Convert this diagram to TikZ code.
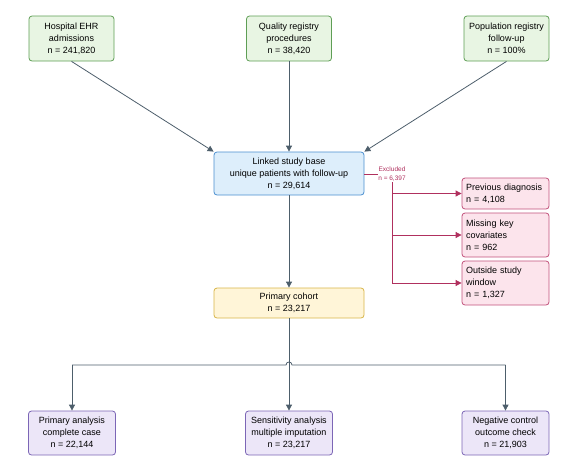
\documentclass[tikz,border=0pt]{standalone}
\usepackage{fontspec}
\setmainfont{Liberation Sans}
\usetikzlibrary{arrows.meta,positioning}
\definecolor{grnfill}{HTML}{E8F5E3}
\definecolor{grnline}{HTML}{5E9E55}
\definecolor{bluefill}{HTML}{DDEEFB}
\definecolor{blueline}{HTML}{4A8FD0}
\definecolor{pinkfill}{HTML}{FCE4EC}
\definecolor{pinkline}{HTML}{C2527C}
\definecolor{exclcol}{HTML}{B0305E}
\definecolor{yelfill}{HTML}{FFF5D8}
\definecolor{yelline}{HTML}{D8B548}
\definecolor{purfill}{HTML}{ECE6F8}
\definecolor{purline}{HTML}{7C66B6}
\definecolor{arrcol}{HTML}{4D5E6B}
\tikzset{
  box/.style={draw, rounded corners=3pt, line width=0.8pt, align=center,
    font=\fontsize{9}{12}\selectfont, inner sep=2pt},
  greenbox/.style={box, fill=grnfill, draw=grnline, minimum width=85pt, minimum height=45pt},
  bluebox/.style={box, fill=bluefill, draw=blueline, minimum width=150pt, minimum height=43pt},
  pinkbox/.style={box, fill=pinkfill, draw=pinkline, minimum width=87pt, align=left, text width=79pt},
  yelbox/.style={box, fill=yelfill, draw=yelline, minimum width=150pt, minimum height=30pt},
  purbox/.style={box, fill=purfill, draw=purline, minimum width=87pt, minimum height=44pt},
  conn/.style={draw=arrcol, line width=0.8pt, -{Triangle[length=6pt,width=6pt]}},
  plain/.style={draw=arrcol, line width=0.8pt},
  exconn/.style={draw=exclcol, line width=0.8pt, -{Triangle[length=6pt,width=6pt]}},
  exline/.style={draw=exclcol, line width=0.8pt},
}
\begin{document}
\begin{tikzpicture}[x=1pt,y=-1pt]
\useasboundingbox (0,0) rectangle (578,472);
% top sources
\node[greenbox] (ehr) at (71.5,38.5) {Hospital EHR\\admissions\\n = 241,820};
\node[greenbox] (qual) at (289,38.5) {Quality registry\\procedures\\n = 38,420};
\node[greenbox] (pop) at (506.5,38.5) {Population registry\\follow-up\\n = 100\%};
% linked
\node[bluebox] (link) at (289,173.5) {Linked study base\\unique patients with follow-up\\n = 29,614};
% exclusions
\node[pinkbox, minimum height=31pt] (prev) at (505.5,193.5) {Previous diagnosis\\n = 4,108};
\node[pinkbox, minimum height=44pt] (miss) at (505.5,235) {Missing key\\covariates\\n = 962};
\node[pinkbox, minimum height=44pt] (outs) at (505.5,283) {Outside study\\window\\n = 1,327};
% cohort
\node[yelbox] (coh) at (289,303) {Primary cohort\\n = 23,217};
% analyses
\node[purbox] (pa) at (72,433) {Primary analysis\\complete case\\n = 22,144};
\node[purbox] (sa) at (289,433) {Sensitivity analysis\\multiple imputation\\n = 23,217};
\node[purbox] (nc) at (505.5,433) {Negative control\\outcome check\\n = 21,903};

% top arrows
\draw[conn] (ehr.south) -- (link.north west);
\draw[conn] (qual.south) -- (link.north);
\draw[conn] (pop.south) -- (link.north east);

% exclusion branch
\coordinate (exc) at (392,174);
\draw[exline] (link.east |- exc) -- (exc);
\draw[exconn] (exc) |- (prev.west);
\draw[exconn] (exc) |- (miss.west);
\draw[exconn] (exc) |- (outs.west);
\node[fill=white, inner sep=0.5pt, align=center, text=exclcol,
  font=\fontsize{6.5}{9}\selectfont] (exlab) at (exc) {Excluded\\n = 6,397};

% main flow
\draw[conn] (link.south) -- (coh.north);
\coordinate (bus) at (289,365);
\coordinate (busl) at (72,365);
\coordinate (busr) at (505.5,365);
\draw[conn] (coh.south) -- (sa.north);
\draw[plain] (busl) -- (286,365) .. controls (286,361) and (292,361) .. (292,365) -- (busr);
\draw[conn] (busl) -- (pa.north);
\draw[conn] (busr) -- (nc.north);
\end{tikzpicture}
\end{document}
